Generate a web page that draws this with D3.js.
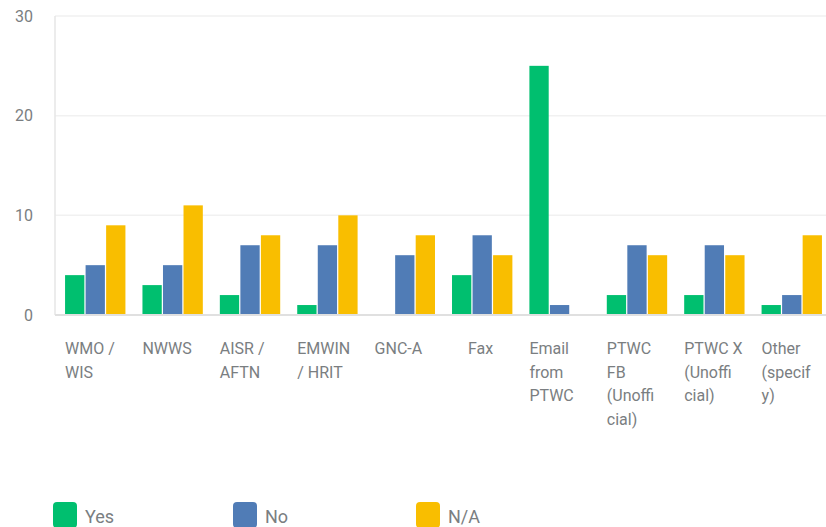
<!DOCTYPE html>
<html>
<head>
<meta charset="utf-8">
<script src="https://cdn.jsdelivr.net/npm/d3@7"></script>
<style>
  body { margin: 0; background: #fff; }
  svg { display: block; font-family: Roboto, "Open Sans", sans-serif; }
</style>
</head>
<body>
<svg id="chart" width="826" height="527"></svg>
<script>
const categories = [
  "WMO / WIS", "NWWS", "AISR / AFTN", "EMWIN / HRIT", "GNC-A",
  "Fax", "Email from PTWC", "PTWC FB (Unofficial)", "PTWC X (Unofficial)", "Other (specify)",
];
// label lines as wrapped in the original (Fax had leading blanks)
const categoryLines = [
  ["WMO /", "WIS"], ["NWWS"], ["AISR /", "AFTN"], ["EMWIN", "/ HRIT"], ["GNC-A"],
  ["\u00a0\u00a0\u00a0\u00a0Fax"], ["Email", "from", "PTWC"], ["PTWC", "FB", "(Unoffi", "cial)"],
  ["PTWC X", "(Unoffi", "cial)"], ["Other", "(specif", "y)"],
];
const seriesNames = ["Yes", "No", "N/A"];
const yesValues = [4, 3, 2, 1, 0, 4, 25, 2, 2, 1];
const noValues = [5, 5, 7, 7, 6, 8, 1, 7, 7, 2];
const naValues = [9, 11, 8, 10, 8, 6, 0, 6, 6, 8];
const yTicks = [0, 10, 20, 30];

const COLORS = ["#00bf6f", "#507cb6", "#f9be00"];
const TEXT_COLOR = "#7a7e81";

const svg = d3.select("#chart");
const margin = { top: 16, left: 55, bottom: 212 };
const height = +svg.attr("height");
const plotBottom = height - margin.bottom;

const values = [yesValues, noValues, naValues];

const x = d3.scaleBand()
  .domain(categories)
  .range([margin.left, 832])
  .paddingInner(0.22)
  .paddingOuter(0.13);

const xInner = d3.scaleBand()
  .domain(seriesNames)
  .range([0, x.bandwidth()])
  .paddingInner(0.06);

const y = d3.scaleLinear()
  .domain([0, 30])
  .range([plotBottom, margin.top]);

// grid lines
svg.append("g")
  .selectAll("line")
  .data(yTicks.filter((t) => t > 0))
  .join("line")
  .attr("x1", margin.left)
  .attr("x2", 826)
  .attr("y1", (d) => y(d))
  .attr("y2", (d) => y(d))
  .attr("stroke", "#f1f1f1")
  .attr("stroke-width", 1.5);

// left axis line
svg.append("line")
  .attr("x1", margin.left).attr("x2", margin.left)
  .attr("y1", y(30)).attr("y2", plotBottom)
  .attr("stroke", "#e6e6e6")
  .attr("stroke-width", 1.5);

// y axis labels
const yAxis = svg.append("g")
  .attr("transform", "translate(33,0)")
  .call(d3.axisLeft(y).tickValues(yTicks).tickSize(0).tickPadding(0));
yAxis.select(".domain").remove();
yAxis.selectAll("text")
  .attr("fill", TEXT_COLOR)
  .attr("font-size", 16)
  .attr("font-family", "Roboto, sans-serif");

// bars
const groups = svg.append("g")
  .selectAll("g")
  .data(categories)
  .join("g")
  .attr("transform", (c) => `translate(${x(c)},0)`);

groups.selectAll("rect")
  .data((c, i) => seriesNames.map((s, j) => ({ series: s, value: values[j][i], color: COLORS[j] })))
  .join("rect")
  .attr("x", (d) => xInner(d.series))
  .attr("width", xInner.bandwidth())
  .attr("y", (d) => y(d.value))
  .attr("height", (d) => plotBottom - y(d.value))
  .attr("fill", (d) => d.color);

// baseline
svg.append("line")
  .attr("x1", margin.left).attr("x2", 826)
  .attr("y1", plotBottom).attr("y2", plotBottom)
  .attr("stroke", "#e0e0e0")
  .attr("stroke-width", 2);

// x labels
svg.append("g")
  .selectAll("text")
  .data(categories)
  .join("text")
  .attr("x", (c) => x(c))
  .attr("y", 354)
  .attr("fill", TEXT_COLOR)
  .attr("font-size", 16)
  .attr("xml:space", "preserve")
  .selectAll("tspan")
  .data((c, i) => categoryLines[i])
  .join("tspan")
  .attr("x", function () { return this.parentNode.getAttribute("x"); })
  .attr("dy", (d, i) => (i === 0 ? 0 : 23.5))
  .text((d) => d);

// legend
const legendX = [53, 233, 416];
const legend = svg.append("g")
  .selectAll("g")
  .data(seriesNames)
  .join("g")
  .attr("transform", (s, i) => `translate(${legendX[i]},502)`);

legend.append("rect")
  .attr("width", 24)
  .attr("height", 26)
  .attr("rx", 4)
  .attr("fill", (s, i) => COLORS[i]);

legend.append("text")
  .attr("x", 32)
  .attr("y", 21)
  .attr("fill", TEXT_COLOR)
  .attr("font-size", 18)
  .text((s) => s);
</script>
</body>
</html>
